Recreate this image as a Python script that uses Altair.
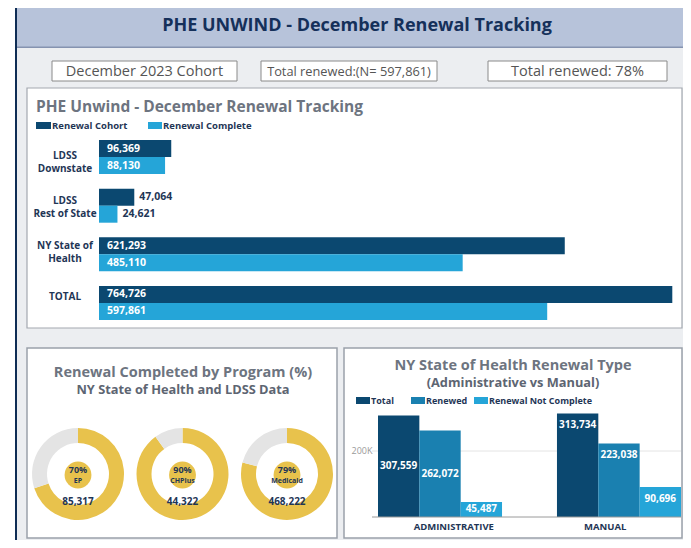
import altair as alt
import pandas as pd

# ---------------- data ----------------
cats = ["LDSS Downstate", "LDSS Rest of State", "NY State of Health", "TOTAL"]
cat_line1 = ["LDSS", "LDSS", "NY State of", "TOTAL"]
cat_line2 = ["Downstate", "Rest of State", "Health", ""]
cohort = [96369, 47064, 621293, 764726]
complete = [88130, 24621, 485110, 597861]
series_main = ["Renewal Cohort", "Renewal Complete"]

programs = ["EP", "CHPlus", "Medicaid"]
prog_pct = [70, 90, 79]
prog_n = [85317, 44322, 468222]

types = ["ADMINISTRATIVE", "MANUAL"]
series_type = ["Total", "Renewed", "Renewal Not Complete"]
type_total = [307559, 313734]
type_renewed = [262072, 223038]
type_notcomplete = [45487, 90696]

header_title = "PHE UNWIND - December Renewal Tracking"
box_texts = ["December 2023 Cohort", "Total renewed:(N= 597,861)", "Total renewed: 78%"]
main_title = "PHE Unwind - December Renewal Tracking"
prog_title = ["Renewal Completed by Program (%)", "NY State of Health and LDSS Data"]
type_title = ["NY State of Health Renewal Type", "(Administrative vs Manual)"]

# ---------------- styles ----------------
FONT = "Open Sans"
NAVY = "#0b4870"
MID = "#1a80b0"
LIGHT = "#25a5d8"
GOLD = "#e8c24c"
RINGGRAY = "#e4e4e4"
TXT = "#1f3656"
TITLEGRAY = "#6d7480"

dummy = pd.DataFrame({"k": [0]})


def rect(x, x2, y, y2, fill, stroke=None, sw=1.0):
    kw = dict(fill=fill)
    if stroke:
        kw.update(stroke=stroke, strokeWidth=sw)
    return alt.Chart(dummy).mark_rect(**kw).encode(
        x=alt.value(x), x2=alt.value(x2), y=alt.value(y), y2=alt.value(y2))


def label(text, x, y, size, color, weight="bold", align="center"):
    return alt.Chart(dummy).mark_text(
        text=text, fontSize=size, color=color, fontWeight=weight, align=align,
        baseline="middle", font=FONT).encode(x=alt.value(x), y=alt.value(y))


layers = []

# ---------------- frame / decorations ----------------
layers += [
    rect(9, 675, 39, 532, "#eceef1"),
    rect(7, 9, 0, 532, "#0f2d55"),
    rect(9, 675, 0, 39, "#b7c3da"),
    rect(9, 675, 38.5, 40, "#8593b0"),
    label(header_title, 349, 18, 18, "#15305a"),
]
box_x = [(44, 229), (253, 429), (480, 659)]
box_size = [14.5, 12.8, 14.5]
for (bx1, bx2), t, fs in zip(box_x, box_texts, box_size):
    layers += [rect(bx1, bx2, 53, 73, "white", "#8a8a8a", 1),
               label(t, (bx1 + bx2) / 2, 63.5, fs, "#555555", weight="normal")]

# main panel
layers += [
    rect(19, 674, 80, 320, "white", "#a3a8b0", 1.2),
    label(main_title, 28, 99, 15.5, TITLEGRAY, align="left"),
    rect(28, 43, 114, 121, NAVY), label(series_main[0], 44, 117.5, 9.5, TXT, align="left"),
    rect(140, 154, 114, 121, LIGHT), label(series_main[1], 155, 117.5, 9.5, TXT, align="left"),
]

# bottom panels
layers += [
    rect(19, 329, 340, 530, "white", "#9aa1ab", 1.5),
    rect(336, 674, 340, 530, "white", "#9aa1ab", 1.5),
    label(prog_title[0], 175, 364.5, 14.5, TITLEGRAY),
    label(prog_title[1], 175, 381.5, 12.8, "#5d6572"),
    label(type_title[0], 505, 357.5, 14.5, TITLEGRAY),
    label(type_title[1], 505, 374.5, 12.8, "#5d6572"),
    rect(348, 362, 389, 396, NAVY), label(series_type[0], 363, 392.5, 9, TXT, align="left"),
    rect(403, 417, 389, 396, MID), label(series_type[1], 418, 392.5, 9, TXT, align="left"),
    rect(466, 480, 389, 396, LIGHT), label(series_type[2], 481, 392.5, 9, TXT, align="left"),
]

# ---------------- main horizontal bars ----------------
main_df = pd.DataFrame({
    "cat": cats * 2,
    "series": [series_main[0]] * 4 + [series_main[1]] * 4,
    "value": cohort + complete,
})
cat_df = pd.DataFrame({"cat": cats, "l1": cat_line1, "l2": cat_line2})

xs_main = alt.Scale(domain=[0, 775000], range=[91, 672], nice=False, zero=True)
ys_main = alt.Scale(domain=cats, range=[132, 312], paddingInner=0.3, paddingOuter=0)
yoff_main = alt.Scale(domain=series_main, paddingInner=0, paddingOuter=0)
col_main = alt.Scale(domain=series_main, range=[NAVY, LIGHT])

bars_main = alt.Chart(main_df).mark_bar(cornerRadius=0).encode(
    x=alt.X("value:Q", scale=xs_main, axis=None),
    y=alt.Y("cat:N", scale=ys_main, axis=None),
    yOffset=alt.YOffset("series:N", scale=yoff_main),
    color=alt.Color("series:N", scale=col_main, legend=None),
)
txt_in = alt.Chart(main_df).transform_filter("datum.value > 60000").transform_calculate(
    z="0").mark_text(align="left", baseline="middle", dx=8, fontSize=10.5,
                     fontWeight="bold", color="white", font=FONT).encode(
    x=alt.X("z:Q", scale=xs_main, axis=None),
    y=alt.Y("cat:N", scale=ys_main, axis=None),
    yOffset=alt.YOffset("series:N", scale=yoff_main),
    text=alt.Text("value:Q", format=","),
)
txt_out = alt.Chart(main_df).transform_filter("datum.value <= 60000").mark_text(
    align="left", baseline="middle", dx=5, fontSize=10.5, fontWeight="bold",
    color=TXT, font=FONT).encode(
    x=alt.X("value:Q", scale=xs_main, axis=None),
    y=alt.Y("cat:N", scale=ys_main, axis=None),
    yOffset=alt.YOffset("series:N", scale=yoff_main),
    text=alt.Text("value:Q", format=","),
)
CAT_X = 57
cat_l1 = alt.Chart(cat_df).transform_filter("datum.l2 != ''").mark_text(
    align="center", baseline="middle", fontSize=10, fontWeight="bold", color=TXT,
    font=FONT, dy=-6.5).encode(
    x=alt.value(CAT_X), y=alt.Y("cat:N", scale=ys_main, axis=None), text="l1:N")
cat_l2 = alt.Chart(cat_df).transform_filter("datum.l2 != ''").mark_text(
    align="center", baseline="middle", fontSize=10, fontWeight="bold", color=TXT,
    font=FONT, dy=6.5).encode(
    x=alt.value(CAT_X), y=alt.Y("cat:N", scale=ys_main, axis=None), text="l2:N")
cat_single = alt.Chart(cat_df).transform_filter("datum.l2 == ''").mark_text(
    align="center", baseline="middle", fontSize=10, fontWeight="bold", color=TXT,
    font=FONT, dy=-1).encode(
    x=alt.value(CAT_X), y=alt.Y("cat:N", scale=ys_main, axis=None), text="l1:N")
layers += [bars_main, txt_in, txt_out, cat_l1, cat_l2, cat_single]

# ---------------- donuts ----------------
xs_prog = alt.Scale(domain=programs, type="point", range=[70, 279], padding=0)
for p, pct in zip(programs, prog_pct):
    ring_df = pd.DataFrame({"prog": [p, p], "part": ["done", "rest"],
                            "amt": [pct, 100 - pct], "ord": [0, 1]})
    layers.append(alt.Chart(ring_df).mark_arc(radius=46, radius2=31).encode(
        x=alt.X("prog:N", scale=xs_prog, axis=None),
        y=alt.value(466),
        theta=alt.Theta("amt:Q", stack=True, scale=alt.Scale(domain=[0, 100])),
        order=alt.Order("ord:Q"),
        color=alt.Color("part:N", scale=alt.Scale(domain=["done", "rest"],
                                                  range=[GOLD, RINGGRAY]), legend=None),
    ))

prog_df = pd.DataFrame({"prog": programs, "pct": prog_pct, "n": prog_n})
inner = alt.Chart(prog_df).mark_circle(size=720, opacity=1, color=GOLD).encode(
    x=alt.X("prog:N", scale=xs_prog, axis=None),
    y=alt.value(467),
)
pct_txt = alt.Chart(prog_df).transform_calculate(t="datum.pct + '%'").mark_text(
    fontSize=9, fontWeight="bold", color=TXT, font=FONT, baseline="middle").encode(
    x=alt.X("prog:N", scale=xs_prog, axis=None), y=alt.value(462), text="t:N")
prog_txt = alt.Chart(prog_df).mark_text(
    fontSize=7, fontWeight="bold", color=TXT, font=FONT, baseline="middle").encode(
    x=alt.X("prog:N", scale=xs_prog, axis=None), y=alt.value(473), text="prog:N")
n_txt = alt.Chart(prog_df).mark_text(
    fontSize=10, fontWeight="bold", color=TXT, font=FONT, baseline="middle").encode(
    x=alt.X("prog:N", scale=xs_prog, axis=None), y=alt.value(494),
    text=alt.Text("n:Q", format=","))
layers += [inner, pct_txt, prog_txt, n_txt]

# ---------------- renewal type bars ----------------
type_df = pd.DataFrame({
    "type": types * 3,
    "s": [series_type[0]] * 2 + [series_type[1]] * 2 + [series_type[2]] * 2,
    "value": type_total + type_renewed + type_notcomplete,
})
xs_type = alt.Scale(domain=types, range=[370, 673], paddingInner=0.307, paddingOuter=0)
xoff_type = alt.Scale(domain=series_type, paddingInner=0, paddingOuter=0)
ys_type = alt.Scale(domain=[0, 350000], range=[509, 393.5], nice=False)
col_type = alt.Scale(domain=series_type, range=[NAVY, MID, LIGHT])

grid = alt.Chart(dummy).mark_rule(color="#e4e4e4", strokeWidth=1).encode(
    y=alt.YDatum(200000, scale=ys_type, axis=None), x=alt.value(364), x2=alt.value(673))
grid_lab = alt.Chart(dummy).mark_text(
    text="200K", fontSize=9, color="#9a9a9a", font=FONT, align="center",
    baseline="middle").encode(y=alt.YDatum(200000, scale=ys_type, axis=None),
                              x=alt.value(354))
bars_type = alt.Chart(type_df).mark_bar().encode(
    x=alt.X("type:N", scale=xs_type, axis=None),
    xOffset=alt.XOffset("s:N", scale=xoff_type),
    y=alt.Y("value:Q", scale=ys_type, axis=None),
    color=alt.Color("s:N", scale=col_type, legend=None),
)
base_rule = alt.Chart(dummy).mark_rule(color="#9a9a9a", strokeWidth=1).encode(
    y=alt.YDatum(0, scale=ys_type, axis=None), x=alt.value(364), x2=alt.value(673))
t_admin = alt.Chart(type_df).transform_filter("datum.type == 'ADMINISTRATIVE'").transform_calculate(
    mid="datum.value / 2").mark_text(fontSize=10, fontWeight="bold", color="white",
                                      font=FONT, baseline="middle").encode(
    x=alt.X("type:N", scale=xs_type, axis=None),
    xOffset=alt.XOffset("s:N", scale=xoff_type),
    y=alt.Y("mid:Q", scale=ys_type, axis=None),
    text=alt.Text("value:Q", format=","),
)
t_man = alt.Chart(type_df).transform_filter("datum.type == 'MANUAL'").mark_text(
    fontSize=10, fontWeight="bold", color="white", font=FONT, baseline="middle", dy=12).encode(
    x=alt.X("type:N", scale=xs_type, axis=None),
    xOffset=alt.XOffset("s:N", scale=xoff_type),
    y=alt.Y("value:Q", scale=ys_type, axis=None),
    text=alt.Text("value:Q", format=","),
)
type_lab = alt.Chart(pd.DataFrame({"type": types})).mark_text(
    fontSize=9.5, fontWeight="bold", color=TXT, font=FONT, baseline="middle").encode(
    x=alt.X("type:N", scale=xs_type, axis=None), y=alt.value(519), text="type:N")
layers += [grid, grid_lab, bars_type, base_rule, t_admin, t_man, type_lab]

chart = alt.layer(*layers).resolve_scale(
    x="independent", y="independent", color="independent", theta="independent"
).properties(
    width=675, height=532, padding=0,
    autosize=alt.AutoSizeParams(type="none"),
    background="white",
).configure_view(stroke=None)

chart.save("out.html", embed_options={"renderer": "svg", "actions": False})
